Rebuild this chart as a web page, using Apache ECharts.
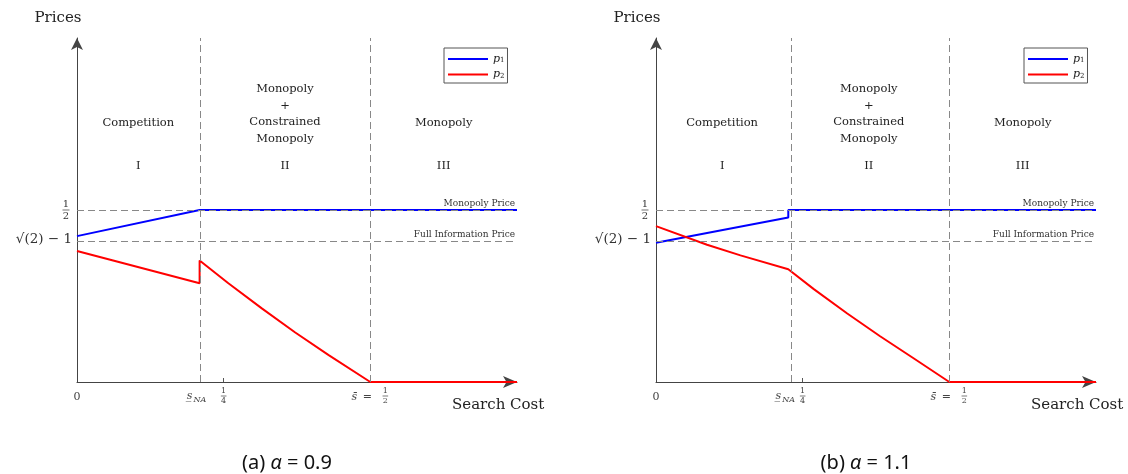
<!DOCTYPE html>
<html>
<head>
<meta charset="utf-8">
<title>Prices vs search cost</title>
<script src="https://cdn.jsdelivr.net/npm/echarts@6/dist/echarts.min.js"></script>
<style>
  body { margin: 0; background: #fff; }
  #chart { width: 1128px; height: 474px; }
</style>
</head>
<body>
<div id="chart"></div>
<script>
// panel (a): alpha = 0.9
var sA_p1 = [0, 0.209, 0.75];
var p1A   = [0.424, 0.5, 0.5];
var sA_p2 = [0, 0.209, 0.209, 0.258, 0.315, 0.372, 0.429, 0.5, 0.75];
var p2A   = [0.381, 0.287, 0.353, 0.287, 0.214, 0.144, 0.078, 0, 0];

// panel (b): alpha = 1.1
var sB_p1 = [0, 0.2255, 0.2255, 0.75];
var p1B   = [0.405, 0.478, 0.5, 0.5];
var sB_p2 = [0, 0.087, 0.144, 0.2255, 0.269, 0.326, 0.382, 0.439, 0.5, 0.75];
var p2B   = [0.453, 0.399, 0.368, 0.328, 0.27, 0.199, 0.133, 0.069, 0, 0];

var sNA = [0.209, 0.2255];      // s_NA in each panel
var sBar = 0.5;                 // s bar = 1/2
var quarter = 0.25;
var monopolyPrice = 0.5;
var fullInfoPrice = Math.SQRT2 - 1;
var panelTags = ['(a)', '(b)'];
var alphas = ['0.9', '1.1'];
var regionTitles = [['Competition'], ['Monopoly', '+', 'Constrained', 'Monopoly'], ['Monopoly']];
var regionNums = ['I', 'II', 'III'];

var SERIF = '"DejaVu Serif", serif';
var BLUE = '#0000ff', RED = '#ff0000';

function zip(xs, ys) {
    return xs.map(function (x, i) { return [x, ys[i]]; });
}

var chart = echarts.init(document.getElementById('chart'));

var grids = [
    { left: 77, top: 38, width: 440, height: 344 },
    { left: 656, top: 38, width: 440, height: 344 }
];

var xAxes = [], yAxes = [], series = [], legends = [];
[0, 1].forEach(function (i) {
    xAxes.push({
        gridIndex: i, type: 'value', min: 0, max: 0.75,
        axisLine: { show: true, onZero: false, symbol: ['none', 'arrow'], symbolSize: [9, 14],
                    lineStyle: { color: '#444', width: 1 } },
        axisTick: { show: true, customValues: [quarter], inside: true, length: 4,
                    lineStyle: { color: '#555' } },
        axisLabel: { show: false },
        splitLine: { show: false }
    });
    yAxes.push({
        gridIndex: i, type: 'value', min: 0, max: 1,
        axisLine: { show: true, onZero: false, symbol: ['none', 'arrow'], symbolSize: [9, 12],
                    lineStyle: { color: '#444', width: 1 } },
        axisTick: { show: false },
        axisLabel: { show: false },
        splitLine: { show: false }
    });
    legends.push({
        left: i === 0 ? 444 : 1024, top: 48,
        orient: 'vertical', data: ['p1', 'p2'], selectedMode: false,
        icon: 'rect', itemWidth: 40, itemHeight: 2, itemGap: 3,
        padding: [4, 3, 3, 4], borderColor: '#555', borderWidth: 1,
        formatter: function (name) { return '{p|p}{s|' + name.slice(1) + '}'; },
        textStyle: {
            lineHeight: 10,
            rich: {
                p: { fontFamily: SERIF, fontStyle: 'italic', fontSize: 11, color: '#222', lineHeight: 10 },
                s: { fontFamily: SERIF, fontSize: 7, color: '#222', verticalAlign: 'bottom', padding: [5, 0, 0, 0], lineHeight: 10 }
            }
        }
    });
});

var blue = [zip(sA_p1, p1A), zip(sB_p1, p1B)];
var red = [zip(sA_p2, p2A), zip(sB_p2, p2B)];

[0, 1].forEach(function (i) {
    series.push({
        name: 'ref', type: 'line', xAxisIndex: i, yAxisIndex: i, data: [], z: 1,
        markLine: {
            silent: true, symbol: ['none', 'none'], animation: false,
            lineStyle: { type: [7, 4], color: '#888', width: 1 },
            label: { fontFamily: SERIF, fontSize: 9, color: '#333', distance: 2 },
            data: [
                { yAxis: monopolyPrice, label: { show: true, position: 'insideEndTop', formatter: 'Monopoly Price' } },
                { yAxis: fullInfoPrice, label: { show: true, position: 'insideEndTop', formatter: 'Full Information Price' } },
                { xAxis: sNA[i], label: { show: false } },
                { xAxis: sBar, label: { show: false } }
            ]
        }
    });
    series.push({
        name: 'p1', type: 'line', xAxisIndex: i, yAxisIndex: i, data: blue[i],
        symbol: 'none', clip: false, z: 3, lineStyle: { color: BLUE, width: 2 }, itemStyle: { color: BLUE }
    });
    series.push({
        name: 'p2', type: 'line', xAxisIndex: i, yAxisIndex: i, data: red[i],
        symbol: 'none', clip: false, z: 3, lineStyle: { color: RED, width: 2 }, itemStyle: { color: RED }
    });
});

chart.setOption({
    animation: false,
    grid: grids,
    xAxis: xAxes,
    yAxis: yAxes,
    legend: legends,
    series: series
});

// annotations (placed from the axes' own scales)
function txt(x, y, s, size, extra) {
    var st = { text: s, fontFamily: SERIF, fontSize: size, fill: '#222', align: 'center', verticalAlign: 'middle' };
    for (var k in extra) st[k] = extra[k];
    return { type: 'text', x: x, y: y, style: st, silent: true };
}
function frac(x, y, n, d, size, color) {
    var w = size * 0.7;
    return [
        txt(x, y - 1, n, size, { verticalAlign: 'bottom', fill: color }),
        { type: 'line', silent: true, shape: { x1: x - w / 2, y1: y, x2: x + w / 2, y2: y },
          style: { stroke: color, lineWidth: 0.7 } },
        txt(x, y + 1, d, size, { verticalAlign: 'top', fill: color })
    ];
}

var g = [];
[0, 1].forEach(function (i) {
    function px(x, y) { return chart.convertToPixel({ gridIndex: i }, [x, y]); }
    var o = px(0, 0);
    var ax = o[0], ay = o[1];
    var xEnd = px(0.75, 0)[0];
    var labY = ay + 15;
    var gray = '#444';

    g.push(txt(ax - 19, 18, 'Prices', 15));
    g.push(txt(xEnd - 65, ay + 23, 'Search Cost', 15, { align: 'left' }));

    // x labels
    g.push(txt(ax, labY, '0', 11, { fill: gray }));
    var xs = px(sNA[i], 0)[0];
    g.push(txt(xs - 10, labY - 1, 's\u0332', 11, { fontStyle: 'italic', fill: gray }));
    g.push(txt(xs - 6, labY + 3, 'NA', 8, { fontStyle: 'italic', align: 'left', fill: gray }));
    g = g.concat(frac(px(quarter, 0)[0], labY - 1, '1', '4', 8, gray));
    var xb = px(sBar, 0)[0];
    g.push(txt(xb - 16, labY, 's\u0304', 11, { fontStyle: 'italic', fill: gray }));
    g.push(txt(xb - 3, labY, '=', 11, { fill: gray }));
    g = g.concat(frac(xb + 15, labY - 1, '1', '2', 8, gray));

    // y labels
    var yh = px(0, monopolyPrice)[1];
    g = g.concat(frac(ax - 11, yh, '1', '2', 10, '#333'));
    var yf = px(0, fullInfoPrice)[1];
    g.push(txt(ax - 5, yf, '\u221A(2) \u2212 1', 13.5, { align: 'right', fill: '#333' }));

    // region labels
    var mids = [sNA[i] / 2, (sNA[i] + sBar) / 2, (sBar + 0.75) / 2];
    mids.forEach(function (m, r) {
        var cx = px(m, 0)[0];
        var lines = regionTitles[r];
        var y0 = lines.length === 1 ? 123 : 89;
        lines.forEach(function (s, k) { g.push(txt(cx, y0 + k * 16.7, s, 11.5)); });
        g.push(txt(cx, 166, regionNums[r], 11.5));
    });

    // caption
    var capX = i === 0 ? 287 : 866;
    g.push({
        type: 'text', x: capX, y: 463, silent: true,
        style: {
            text: panelTags[i] + ' {g|\u03B1} = ' + alphas[i],
            fontFamily: '"Noto Sans", sans-serif', fontSize: 20, fill: '#111',
            align: 'center', verticalAlign: 'middle',
            rich: { g: { fontFamily: '"Noto Sans", sans-serif', fontStyle: 'italic', fontSize: 20, fill: '#111' } }
        }
    });
});

chart.setOption({ graphic: g });
</script>
</body>
</html>
